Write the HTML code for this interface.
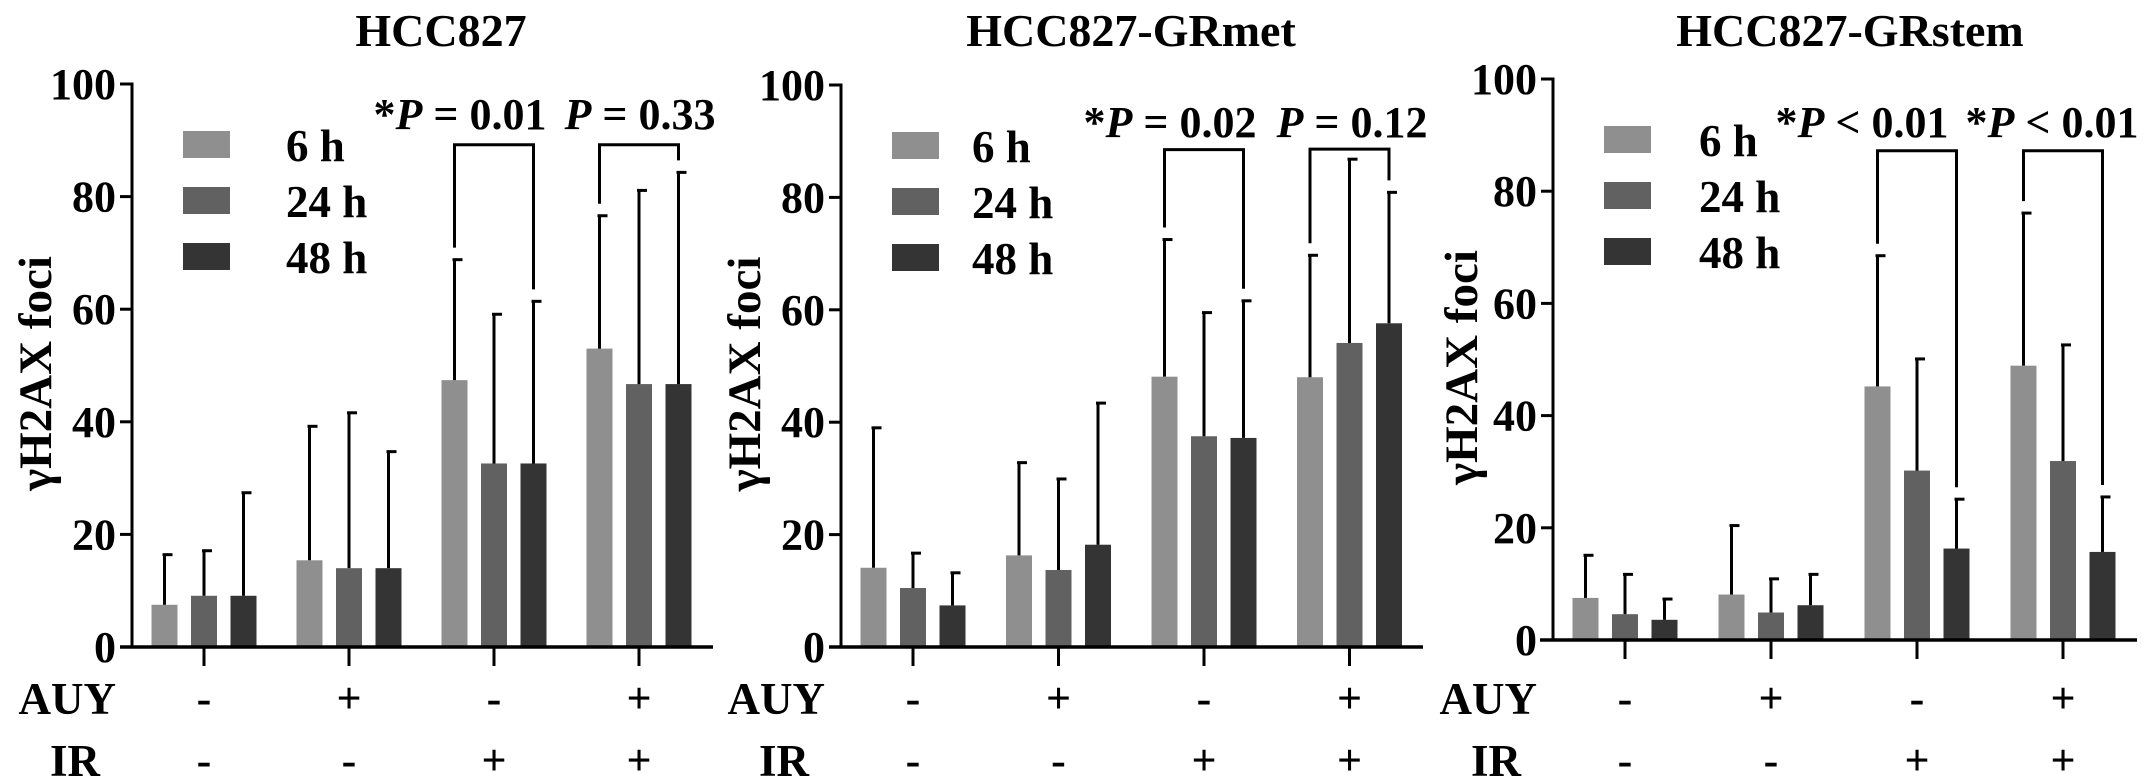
<!DOCTYPE html>
<html><head><meta charset="utf-8"><style>
html,body{margin:0;padding:0;background:#fff;}
svg{display:block;font-family:"Liberation Serif",serif;font-weight:bold;}
</style></head><body>
<svg id="fig" width="2150" height="783" viewBox="0 0 2150 783" xmlns="http://www.w3.org/2000/svg"></svg>
<script>
const panelTitles = ["HCC827", "HCC827-GRmet", "HCC827-GRstem"];
const groupAUY = ["-", "+", "-", "+"];
const groupIR = ["-", "-", "+", "+"];
const seriesNames = ["6 h", "24 h", "48 h"];
const yTicks = [0, 20, 40, 60, 80, 100];
const p1Means = [[7.5, 9.1, 9.1], [15.4, 14.0, 14.0], [47.4, 32.6, 32.6], [53.0, 46.7, 46.7]];
const p1Errs  = [[16.4, 17.1, 27.4], [39.2, 41.6, 34.7], [68.8, 59.1, 61.4], [76.6, 81.1, 84.3]];
const p2Means = [[14.1, 10.5, 7.4], [16.3, 13.7, 18.2], [48.1, 37.5, 37.2], [48.0, 54.1, 57.6]];
const p2Errs  = [[39.0, 16.7, 13.2], [32.8, 29.9, 43.4], [72.5, 59.5, 61.6], [69.7, 86.8, 80.9]];
const p3Means = [[7.5, 4.6, 3.6], [8.1, 4.9, 6.2], [45.2, 30.2, 16.3], [48.9, 31.9, 15.7]];
const p3Errs  = [[15.1, 11.7, 7.3], [20.4, 10.9, 11.7], [68.5, 50.1, 25.1], [76.1, 52.6, 25.5]];
const pLabels = [["*P = 0.01", "P = 0.33"], ["*P = 0.02", "P = 0.12"], ["*P < 0.01", "*P < 0.01"]];
const bracketTops = [[89.2, 89.2], [88.5, 88.6], [87.2, 87.2]];

const colors = ["#8f8f8f", "#616161", "#343434"];
const NS = "http://www.w3.org/2000/svg";
const svg = document.getElementById("fig");
function mk(tag, attrs, parent, text) {
  const e = document.createElementNS(NS, tag);
  for (const k in attrs) e.setAttribute(k, attrs[k]);
  if (text !== undefined) e.textContent = text;
  (parent || svg).appendChild(e);
  return e;
}
const panels = [
  {axisX: 132, y0: 647, y100: 84, tick0: 204, spacing: 145, title: 441, legLabel: 286, ylab: 36, xStart: 120, xEnd: 713, means: p1Means, errs: p1Errs, plx: [460, 640], ply: 114, labRight: 116},
  {axisX: 841, y0: 647, y100: 85, tick0: 913, spacing: 145.5, title: 1131, legLabel: 972, ylab: 745, xStart: 829, xEnd: 1423, means: p2Means, errs: p2Errs, plx: [1170, 1352], ply: 122, labRight: 825},
  {axisX: 1553, y0: 640, y100: 79, tick0: 1625, spacing: 146, title: 1850, legLabel: 1699, ylab: 1462, xStart: 1540, xEnd: 2137, means: p3Means, errs: p3Errs, plx: [1862, 2052], ply: 122, labRight: 1537}
];
const offsets = [-39.5, 0, 39.5];
const barW = 26;
panels.forEach((P, pi) => {
  const g = mk("g", {});
  
  
  const yS = v => P.y0 - (P.y0 - P.y100) * v / 100;
  const xG = i => P.tick0 + i * P.spacing;
  const t = mk("text", {x: P.title, y: 46, "text-anchor": "middle", "font-size": 46}, g, panelTitles[pi]);
  
  
  const ya = mk("line", {x1: P.axisX, y1: yS(100) - 1.5, x2: P.axisX, y2: P.y0, stroke: "#000", "stroke-width": 3}, g);
  
  
  yTicks.forEach(v => {
    mk("line", {x1: P.axisX - 12, y1: yS(v), x2: P.axisX, y2: yS(v), stroke: "#000", "stroke-width": 3}, g);
    const tl = mk("text", {x: P.axisX - 16, y: yS(v) + 15, "text-anchor": "end", "font-size": 44}, g, String(v));
    
    
  });
  const yl = mk("text", {x: 0, y: 0, "text-anchor": "middle", "font-size": 47, transform: `translate(${P.ylab + 15},${(P.y0 + P.y100) / 2 + 8}) rotate(-90)`}, g, "γH2AX foci");
  
  
  P.means.forEach((grp, gi) => {
    grp.forEach((v, si) => {
      const cx = xG(gi) + offsets[si];
      const r = mk("rect", {x: cx - barW / 2, y: yS(v), width: barW, height: P.y0 - yS(v), fill: colors[si]}, g);
      
      
      const ey = yS(P.errs[gi][si]);
      const el = mk("line", {x1: cx, y1: ey, x2: cx, y2: yS(v), stroke: "#000", "stroke-width": 3}, g);
      
      
      mk("line", {x1: cx - 2, y1: ey, x2: cx + 8, y2: ey, stroke: "#000", "stroke-width": 3}, g);
    });
  });
  const xa = mk("line", {x1: P.xStart, y1: P.y0, x2: P.xEnd, y2: P.y0, stroke: "#000", "stroke-width": 3.5}, g);
  
  
  groupAUY.forEach((s, gi) => {
    mk("line", {x1: xG(gi), y1: P.y0, x2: xG(gi), y2: P.y0 + 19, stroke: "#000", "stroke-width": 3}, g);
    const a = mk("text", {x: xG(gi), y: 713, "text-anchor": "middle", "font-size": 44}, g, s);
    
    
    const b = mk("text", {x: xG(gi), y: 775, "text-anchor": "middle", "font-size": 44}, g, groupIR[gi]);
    
    
  });
  const la = mk("text", {x: P.labRight, y: 714, "text-anchor": "end", "font-size": 45}, g, "AUY");
  
  
  const li = mk("text", {x: P.labRight - 16, y: 776, "text-anchor": "end", "font-size": 45}, g, "IR");
  
  
  seriesNames.forEach((n, si) => {
    const yy = yS(100) + 47 + si * 56;
    const sw = mk("rect", {x: P.axisX + 51, y: yy, width: 47, height: 27, fill: colors[si]}, g);
    
    
    const lt = mk("text", {x: P.legLabel, y: yy + 30, "font-size": 45}, g, n);
    
    
  });
  [2, 3].forEach((gi, bi) => {
    const xl = xG(gi) + offsets[0], xr = xG(gi) + offsets[2];
    const top = yS(bracketTops[pi][bi]);
    const el = yS(P.errs[gi][0]) - 12, er = yS(P.errs[gi][2]) - 12;
    const br = mk("path", {d: `M${xl},${el} L${xl},${top} L${xr},${top} L${xr},${er}`, fill: "none", stroke: "#000", "stroke-width": 3}, g);
    
    
    const txt = pLabels[pi][bi];
    const tt = mk("text", {x: P.plx[bi], y: P.ply + 15, "text-anchor": "middle", "font-size": 44}, g);
    
    
    const star = txt.startsWith("*");
    const rest = txt.replace("*", "").replace("P", "");
    if (star) mk("tspan", {}, tt, "*");
    mk("tspan", {"font-style": "italic"}, tt, "P");
    mk("tspan", {}, tt, rest);
  });
});
</script>
</body></html>
